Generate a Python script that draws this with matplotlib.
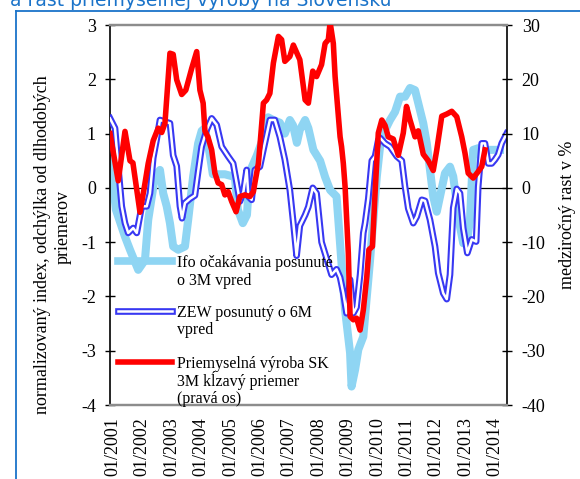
import matplotlib
matplotlib.use("Agg")
import matplotlib.pyplot as plt
from matplotlib.lines import Line2D

# ---------------- data ----------------
ifo_t = [2000.90, 2001.00, 2001.10, 2001.41, 2001.58, 2001.86, 2002.09, 2002.20, 2002.43, 2002.60,
         2002.71, 2002.83, 2002.94, 2003.05, 2003.22, 2003.45, 2003.56, 2003.73, 2003.90, 2004.02,
         2004.13, 2004.30, 2004.40, 2004.81, 2005.15, 2005.25, 2005.42, 2005.56, 2005.66, 2005.90,
         2006.10, 2006.28, 2006.45, 2006.68, 2006.85, 2007.02, 2007.13, 2007.26, 2007.36, 2007.54,
         2007.65, 2007.82, 2008.05, 2008.22, 2008.39, 2008.61, 2008.67, 2008.78, 2008.90, 2009.07,
         2009.12, 2009.24, 2009.35, 2009.52, 2009.63, 2009.75, 2009.86, 2009.98, 2010.09, 2010.20,
         2010.32, 2010.43, 2010.60, 2010.77, 2010.94, 2011.11, 2011.28, 2011.39, 2011.56, 2011.68,
         2011.79, 2011.90, 2012.02, 2012.13, 2012.30, 2012.47, 2012.58, 2012.70, 2012.81, 2012.92,
         2013.04, 2013.15, 2013.26, 2013.43, 2013.55, 2013.72, 2014.17]
ifo_v = [0.75, 0.1, -0.4, -0.9, -1.14, -1.51, -1.33, -0.59, 0.21, 0.33,
         -0.1, -0.34, -0.65, -1.08, -1.14, -1.08, -0.59, 0.21, 0.82, 1.05,
         1.1, 0.6, 0.25, 0.25, 0.2, -0.4, -0.65, -0.5, 0.3, 0.6,
         0.9, 1.3, 1.25, 1.2, 1.0, 1.25, 1.15, 0.83, 1.07, 1.25,
         1.1, 0.7, 0.5, 0.2, -0.04, -0.16, -0.59, -1.4, -2.25, -3.04,
         -3.66, -3.35, -2.98, -2.74, -2.06, -1.33, -0.59, 0.21, 0.76, 1.0,
         1.13, 1.25, 1.4, 1.68, 1.68, 1.84, 1.8, 1.56, 1.19, 0.82,
         0.33, -0.16, -0.44, -0.16, 0.27, 0.39, 0.21, -0.28, -0.71, -1.02,
         -1.02, -0.59, 0.7, 0.73, 0.52, 0.7, 0.7]

zew_t = [2000.90, 2001.07, 2001.18, 2001.30, 2001.41, 2001.52, 2001.69, 2001.81, 2001.98, 2002.15,
         2002.26, 2002.37, 2002.49, 2002.60, 2002.77, 2002.94, 2003.05, 2003.17, 2003.28, 2003.35,
         2003.45, 2003.62, 2003.79, 2003.90, 2004.02, 2004.19, 2004.36, 2004.53, 2004.70, 2004.92,
         2005.09, 2005.21, 2005.32, 2005.44, 2005.55, 2005.61, 2005.72, 2005.83, 2006.00, 2006.12,
         2006.34, 2006.51, 2006.68, 2006.85, 2007.02, 2007.14, 2007.25, 2007.36, 2007.54, 2007.65,
         2007.80, 2007.93, 2008.10, 2008.27, 2008.44, 2008.61, 2008.73, 2008.84, 2008.95, 2009.07,
         2009.18, 2009.29, 2009.41, 2009.52, 2009.58, 2009.69, 2009.81, 2009.92, 2010.03, 2010.09,
         2010.26, 2010.43, 2010.66, 2010.83, 2010.94, 2011.05, 2011.22, 2011.34, 2011.51, 2011.62,
         2011.79, 2011.96, 2012.07, 2012.24, 2012.36, 2012.47, 2012.58, 2012.70, 2012.81, 2012.92,
         2013.06, 2013.21, 2013.36, 2013.43, 2013.55, 2013.66, 2013.77, 2013.89, 2014.00, 2014.11,
         2014.23, 2014.40]
zew_v = [1.28, 1.1, 0.39, -0.34, -0.65, -0.83, -0.74, -0.83, -0.34, -0.34,
         -0.1, 0.55, 0.9, 1.25, 1.22, 1.19, 0.6, 0.4, -0.34, -0.56,
         -0.28, -0.2, -0.14, 0.3, 0.76, 1.07, 1.28, 1.16, 0.76, 0.58,
         0.45, 0.09, -0.25, -0.07, 0.33, -0.16, -0.22, 0.33, 0.39, 0.7,
         1.25, 1.25, 0.94, 0.52, -0.04, -0.65, -1.25, -0.7, -0.5, -0.35,
         0.0, -0.1, -1.0, -1.3, -1.6, -1.5, -1.65, -1.94, -2.31, -1.69,
         -2.31, -2.2, -1.6, -0.83, -0.65, -0.2, 0.5, 0.58, 0.88, 0.92,
         0.82, 0.76, 0.58, 0.5, 0.02, -0.38, -0.65, -0.53, -0.22, -0.24,
         -0.59, -1.08, -1.57, -1.94, -2.05, -1.6, -0.37, -0.02, -0.1, -0.74,
         -1.2, -0.95, -0.99, 0.02, 0.82, 0.82, 0.45, 0.45, 0.52, 0.61,
         0.82, 1.0]

ip_t = [2000.90, 2001.18, 2001.41, 2001.58, 2001.68, 2001.92, 2002.08, 2002.20, 2002.37, 2002.54,
        2002.66, 2002.77, 2002.94, 2003.05, 2003.17, 2003.34, 2003.48, 2003.68, 2003.85, 2003.96,
        2004.07, 2004.13, 2004.23, 2004.36, 2004.47, 2004.58, 2004.70, 2004.81, 2004.92, 2005.04,
        2005.19, 2005.32, 2005.49, 2005.66, 2005.78, 2005.83, 2005.95, 2006.00, 2006.12, 2006.23,
        2006.34, 2006.46, 2006.63, 2006.74, 2006.85, 2007.02, 2007.14, 2007.36, 2007.54, 2007.65,
        2007.80, 2007.93, 2008.10, 2008.22, 2008.33, 2008.39, 2008.50, 2008.56, 2008.73, 2008.78,
        2008.84, 2008.90, 2009.01, 2009.07, 2009.18, 2009.29, 2009.41, 2009.52, 2009.64, 2009.71,
        2009.83, 2009.92, 2010.03, 2010.15, 2010.26, 2010.37, 2010.54, 2010.71, 2010.88, 2010.99,
        2011.11, 2011.28, 2011.39, 2011.56, 2011.73, 2011.90, 2012.02, 2012.19, 2012.36, 2012.53,
        2012.70, 2012.87, 2012.98, 2013.09, 2013.26, 2013.43, 2013.55, 2013.66]
ip_v = [10.0, 1.3, 10.4, 5.0, 4.6, -4.5, 0.5, 4.5, 8.7, 11.0,
        10.2, 11.9, 24.8, 24.6, 19.9, 17.2, 18.0, 22.0, 25.1, 18.0,
        15.6, 10.5, 9.4, 7.0, 2.7, 0.9, 0.6, -1.3, -0.7, -2.5,
        -4.4, -1.6, -1.3, -1.6, -0.7, 0.9, 4.5, 7.6, 15.6, 16.2,
        17.4, 23.0, 27.9, 27.3, 23.3, 24.2, 26.3, 23.6, 16.2, 15.6,
        21.5, 20.5, 22.7, 26.6, 27.3, 30.5, 26.6, 20.5, 9.4, 7.6,
        4.5, 0.2, -12.0, -23.7, -24.3, -24.0, -26.2, -22.5, -16.3, -11.4,
        -10.8, -1.0, 10.1, 12.5, 11.5, 9.4, 9.0, 6.0, 10.1, 15.0,
        12.5, 9.4, 10.5, 6.2, 5.0, 3.2, 7.0, 13.2, 13.6, 14.1,
        13.1, 9.4, 6.4, 2.7, 1.8, 3.0, 3.9, 7.0]

tick_years = list(range(2001, 2015))
tick_labels = ["01/%d" % y for y in tick_years]
left_ticks = [-4, -3, -2, -1, 0, 1, 2, 3]
right_ticks = [-40, -30, -20, -10, 0, 10, 20, 30]

legend_ifo = ["Ifo očakávania posunuté", "o 3M vpred"]
legend_zew = ["ZEW posunutý o 6M", "vpred"]
legend_ip = ["Priemyselná výroba SK", "3M kĺzavý priemer", "(pravá os)"]

# ---------------- styling ----------------
plt.rcParams["font.family"] = ["Liberation Serif", "DejaVu Serif"]
C_IFO = "#8fd5f3"
C_ZEW = "#3838f2"
C_IP = "#ff0000"
C_FRAME = "#1a73c9"

W, H = 580, 479
fig = plt.figure(figsize=(W / 100, H / 100), dpi=100)
L, R, T, B = 110, 507, 25, 405
ax = fig.add_axes([L / W, 1 - B / H, (R - L) / W, (B - T) / H])
ax2 = ax.twinx()

ax.set_xlim(2000.90, 2014.41)
ax.set_ylim(-4, 3)
ax2.set_ylim(-40, 30)

ax.axhline(0, color="black", lw=0.9, zorder=1)

ax.plot(ifo_t, ifo_v, color=C_IFO, lw=5.8, solid_joinstyle="round", zorder=2)
ax.plot(zew_t, zew_v, color=C_ZEW, lw=4.8, solid_joinstyle="round", zorder=3)
ax.plot(zew_t, zew_v, color="white", lw=1.8, solid_joinstyle="round", zorder=4)
ax2.plot(ip_t, ip_v, color=C_IP, lw=4.0, solid_joinstyle="round", zorder=5)

# axes / ticks
ax.set_xticks(tick_years)
ax.set_xticklabels(tick_labels, rotation=90)
ax.tick_params(axis="x", length=0, pad=9, labelsize=13)
ax.set_yticks(left_ticks)
ax.set_yticklabels([str(v) for v in left_ticks])
ax.tick_params(axis="y", direction="inout", length=7.2, width=1, pad=6.5, labelsize=13)
ax2.set_yticks(right_ticks)
ax2.set_yticklabels([str(v) for v in right_ticks])
ax2.tick_params(axis="y", direction="inout", length=7.2, width=1, pad=7, labelsize=13)

for a in (ax, ax2):
    a.spines["top"].set_color("#8c8c8c")
    a.spines["bottom"].set_color("#8c8c8c")
    a.spines["top"].set_linewidth(1.6)
    a.spines["bottom"].set_linewidth(1.6)
ax.spines["right"].set_visible(False)
ax.spines["left"].set_linewidth(1.2)
ax2.spines["left"].set_visible(False)
ax2.spines["right"].set_linewidth(1.2)

# axis titles
def fx(px):
    return px / W

def fy(py):
    return 1 - py / H

fig.text(fx(43), fy(245), "normalizovaný index, odchýlka od dlhodobých",
         rotation=90, ha="center", va="center", fontsize=13)
fig.text(fx(63), fy(227), "priemerov", rotation=90, ha="center", va="center", fontsize=13)
fig.text(fx(567), fy(215), "medziročný rast v %", rotation=90, ha="center", va="center", fontsize=13)

# legend (manual)
def axx(px):
    return (px - L) / (R - L)

def axy(py):
    return (B - py) / (B - T)

x0, x1, xt = axx(118), axx(172), axx(177)
ax2.add_line(Line2D([x0, x1], [axy(261), axy(261)], transform=ax2.transAxes,
                    color=C_IFO, lw=5.5, clip_on=False, zorder=10))
ax2.add_line(Line2D([x0, x1], [axy(311), axy(311)], transform=ax2.transAxes,
                    color=C_ZEW, lw=4.8, clip_on=False, zorder=10))
ax2.add_line(Line2D([x0, x1], [axy(311), axy(311)], transform=ax2.transAxes,
                    color="white", lw=1.8, clip_on=False, zorder=11))
ax2.add_line(Line2D([x0, x1], [axy(362), axy(362)], transform=ax2.transAxes,
                    color=C_IP, lw=4.0, clip_on=False, zorder=10))

for lines, baselines in ((legend_ifo, [267, 285]), (legend_zew, [317, 334]),
                         (legend_ip, [368, 386, 403])):
    for txt, by in zip(lines, baselines):
        ax2.text(xt, axy(by), txt, transform=ax2.transAxes, ha="left", va="baseline",
                 fontsize=11.5, zorder=12)

# frame and cut-off title (the reference shows it clipped at the top edge)
fig.add_artist(Line2D([fx(15.5), fx(15.5)], [0, fy(11)], color=C_FRAME, lw=1.3))
fig.add_artist(Line2D([fx(15.5), 1], [fy(11), fy(11)], color=C_FRAME, lw=1.3))
fig.text(fx(10), fy(6.5), "a rast priemyselnej výroby na Slovensku", color=C_FRAME,
         fontsize=13.5, family="DejaVu Sans", ha="left", va="baseline")

fig.savefig("out.png", dpi=100)
